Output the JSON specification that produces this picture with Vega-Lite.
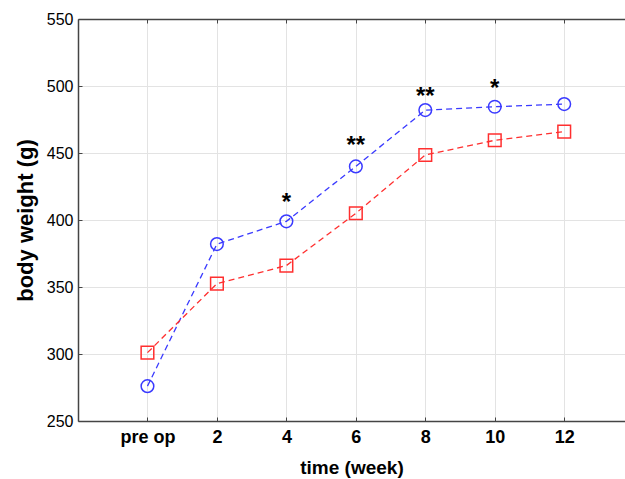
{
  "$schema": "https://vega.github.io/schema/vega-lite/v6.json",
  "width": 547,
  "height": 402,
  "autosize": "none",
  "padding": {"left": 78, "top": 19, "right": 0, "bottom": 58},
  "background": "white",
  "config": {
    "view": {"stroke": null},
    "font": "Liberation Sans",
    "axis": {
      "domainColor": "#444444",
      "domainWidth": 1.5,
      "gridColor": "#e3e3e3",
      "gridWidth": 1,
      "tickColor": "#444444",
      "tickSize": -4,
      "labelFont": "Liberation Sans",
      "titleFont": "Liberation Sans",
      "labelColor": "black",
      "titleColor": "black"
    }
  },
  "datasets": {
    "weights": [
      {"week": "pre op", "idx": 0, "group": "A", "weight": 276},
      {"week": "2", "idx": 1, "group": "A", "weight": 382},
      {"week": "4", "idx": 2, "group": "A", "weight": 399},
      {"week": "6", "idx": 3, "group": "A", "weight": 440},
      {"week": "8", "idx": 4, "group": "A", "weight": 482},
      {"week": "10", "idx": 5, "group": "A", "weight": 484.5},
      {"week": "12", "idx": 6, "group": "A", "weight": 486.5},
      {"week": "pre op", "idx": 0, "group": "B", "weight": 301},
      {"week": "2", "idx": 1, "group": "B", "weight": 352.5},
      {"week": "4", "idx": 2, "group": "B", "weight": 366},
      {"week": "6", "idx": 3, "group": "B", "weight": 405},
      {"week": "8", "idx": 4, "group": "B", "weight": 448.5},
      {"week": "10", "idx": 5, "group": "B", "weight": 459.5},
      {"week": "12", "idx": 6, "group": "B", "weight": 466}
    ],
    "stars": [
      {"idx": 2, "label": "*", "weight": 413},
      {"idx": 3, "label": "**", "weight": 455},
      {"idx": 4, "label": "**", "weight": 492},
      {"idx": 5, "label": "*", "weight": 498}
    ]
  },
  "resolve": {"axis": {"x": "independent"}},
  "layer": [
    {
      "data": {"name": "weights"},
      "mark": {"type": "line", "strokeDash": [6, 4], "strokeWidth": 1.3},
      "encoding": {
        "x": {
          "field": "idx", "type": "quantitative",
          "scale": {"domain": [-1, 6.875], "nice": false, "zero": false},
          "axis": {
            "values": [0, 1, 2, 3, 4, 5, 6],
            "labelExpr": "['pre op','2','4','6','8','10','12'][datum.value]",
            "labelFontSize": 18, "labelFontWeight": "bold", "labelPadding": 11,
            "title": "time (week)", "titleFontSize": 19, "titleFontWeight": "bold", "titlePadding": 12,
            "grid": true
          }
        },
        "y": {
          "field": "weight", "type": "quantitative",
          "scale": {"domain": [250, 550], "nice": false, "zero": false},
          "axis": {
            "values": [250, 300, 350, 400, 450, 500, 550],
            "labelFontSize": 16, "labelPadding": 9,
            "title": "body weight (g)", "titleFontSize": 22, "titleFontWeight": "bold", "titlePadding": 9,
            "grid": true
          }
        },
        "color": {
          "field": "group", "type": "nominal",
          "scale": {"domain": ["A", "B"], "range": ["#3a3aff", "#ff2f2f"]},
          "legend": null
        }
      }
    },
    {
      "data": {"name": "weights"},
      "mark": {"type": "point", "filled": false, "strokeWidth": 1.5, "opacity": 1},
      "encoding": {
        "x": {
          "field": "idx", "type": "quantitative",
          "axis": {"orient": "top", "values": [0, 1, 2, 3, 4, 5, 6], "labels": false, "title": null, "grid": false}
        },
        "y": {"field": "weight", "type": "quantitative"},
        "color": {"field": "group", "type": "nominal", "legend": null},
        "shape": {
          "field": "group", "type": "nominal",
          "scale": {"domain": ["A", "B"], "range": ["circle", "square"]},
          "legend": null
        },
        "size": {"value": 160}
      }
    },
    {
      "data": {"name": "stars"},
      "mark": {"type": "text", "fontSize": 24, "fontWeight": "bold", "baseline": "middle", "color": "black"},
      "encoding": {
        "x": {"field": "idx", "type": "quantitative", "axis": null},
        "y": {"field": "weight", "type": "quantitative"},
        "text": {"field": "label"}
      }
    }
  ]
}
